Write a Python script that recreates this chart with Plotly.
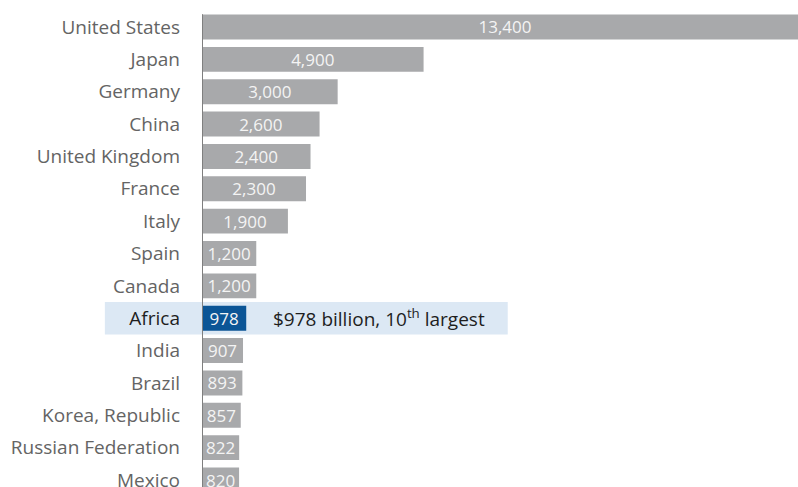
import plotly.graph_objects as go

# GDP by economy, billions of US dollars
countries = ["United States", "Japan", "Germany", "China", "United Kingdom",
             "France", "Italy", "Spain", "Canada", "Africa", "India", "Brazil",
             "Korea, Republic", "Russian Federation", "Mexico"]
gdp = [13400, 4900, 3000, 2600, 2400, 2300, 1900, 1200, 1200, 978, 907, 893,
       857, 822, 820]
value_labels = ["13,400", "4,900", "3,000", "2,600", "2,400", "2,300", "1,900",
                "1,200", "1,200", "978", "907", "893", "857", "822", "820"]
highlight = "Africa"
note_value = "$978 billion, 10<sup>th</sup> largest"

GREY_BAR = "#a8a9ab"
BLUE_BAR = "#0b5596"
BAND = "#dce8f4"
FONT = "Open Sans"

bar_colors = [BLUE_BAR if c == highlight else GREY_BAR for c in countries]
tick_text = [
    f"<span style='color:#1e1e1e'>{c}</span>" if c == highlight else c
    for c in countries
]
idx = countries.index(highlight)

fig = go.Figure(
    go.Bar(
        x=gdp,
        y=countries,
        orientation="h",
        marker=dict(color=bar_colors, line=dict(width=0)),
        text=value_labels,
        textposition="inside",
        insidetextanchor="middle",
        textangle=0,
        constraintext="none",
        textfont=dict(family=FONT, size=17, color="#f4f4f4"),
        hoverinfo="skip",
    )
)

# highlight band behind the Africa row, reaching into the label margin
fig.add_shape(
    type="rect", layer="below", xref="paper", yref="y",
    x0=-0.163, x1=0.513, y0=idx - 0.5, y1=idx + 0.5,
    fillcolor=BAND, line=dict(width=0),
)

# vertical baseline starting at the top of the first bar
fig.add_shape(
    type="line", xref="x", yref="y", layer="above",
    x0=0, x1=0, y0=-0.39, y1=15,
    line=dict(color="#7f7f7f", width=2),
)

fig.add_annotation(
    x=1530, y=highlight, xref="x", yref="y",
    text=note_value, showarrow=False, xanchor="left", yanchor="middle",
    font=dict(family=FONT, size=19, color="#1e1e1e"),
)

fig.update_layout(
    width=798, height=487,
    margin=dict(l=202, r=0, t=0, b=0, autoexpand=False),
    paper_bgcolor="white", plot_bgcolor="rgba(0,0,0,0)",
    bargap=0.23,
    showlegend=False,
    font=dict(family=FONT, size=19, color="#646464"),
    xaxis=dict(range=[0, 13180], visible=False, fixedrange=True,
               automargin=False),
    yaxis=dict(
        categoryorder="array", categoryarray=countries,
        tickmode="array", tickvals=countries, ticktext=tick_text,
        range=[14.216, -0.834],
        showline=False, showgrid=False, zeroline=False, ticks="",
        ticklabelstandoff=21, automargin=False,
        tickfont=dict(family=FONT, size=19, color="#646464"),
        fixedrange=True,
    ),
)

fig.write_html("out.html", config={"displayModeBar": False})
